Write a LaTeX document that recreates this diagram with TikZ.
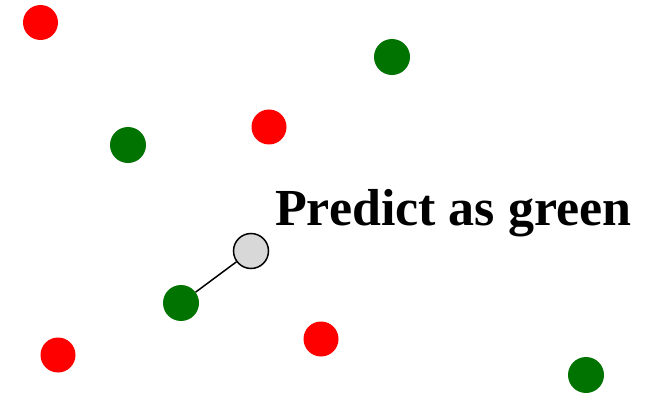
\documentclass[tikz,border=0pt]{standalone}
\usepackage{fontspec}
\setmainfont{Liberation Serif}
\begin{document}
\begin{tikzpicture}[x=1pt,y=-1pt,
  redpt/.style={circle,fill=red,inner sep=0pt,minimum size=35pt},
  greenpt/.style={circle,fill={rgb,255:red,0;green,115;blue,0},inner sep=0pt,minimum size=36pt},
  querypt/.style={circle,draw=black,line width=1.5pt,fill={rgb,255:red,216;green,216;blue,216},inner sep=0pt,minimum size=35pt}]
\useasboundingbox (0,0) rectangle (656,393);
\node[redpt] (r1) at (40.5,22.5) {};
\node[redpt] (r2) at (269,127) {};
\node[redpt] (r3) at (321,339) {};
\node[redpt] (r4) at (58,355) {};
\node[greenpt] (g1) at (392,57) {};
\node[greenpt] (g2) at (128,145) {};
\node[greenpt] (g3) at (181,303) {};
\node[greenpt] (g4) at (586,375) {};
\node[querypt] (q) at (251,251) {};
\draw[line width=1.5pt] (q) -- (g3);
\node[anchor=base west,inner sep=0pt,font=\bfseries\fontsize{52}{60}\selectfont] (lbl) at (275,225) {Predict as green};
\end{tikzpicture}
\end{document}
